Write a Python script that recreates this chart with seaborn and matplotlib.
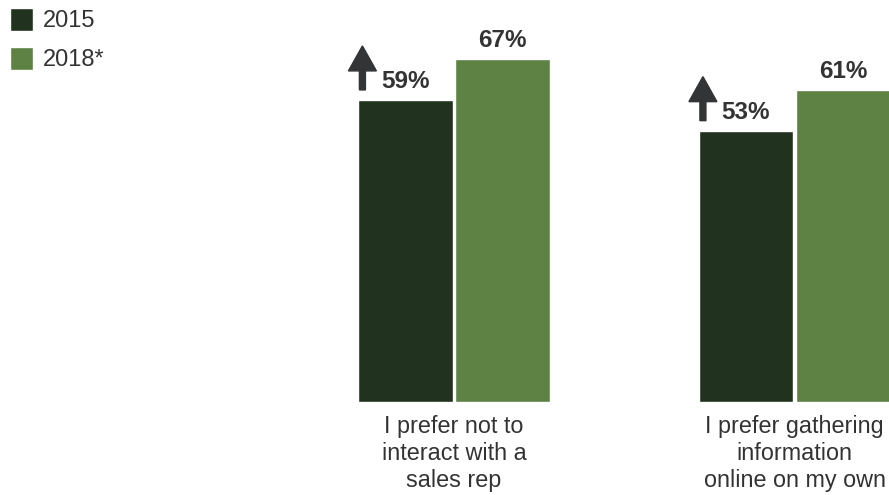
import matplotlib
matplotlib.use("Agg")
import matplotlib.pyplot as plt
import seaborn as sns
import pandas as pd
from matplotlib.patches import FancyArrow
from matplotlib.transforms import IdentityTransform

categories = ["I prefer not to\ninteract with a\nsales rep",
              "I prefer gathering\ninformation\nonline on my own"]
years = ["2015", "2018*"]
values_2015 = [59, 53]
values_2018 = [67, 61]
colors = ["#21331f", "#5d8244"]
text_color = "#333333"

sns.set_theme(style="white")
plt.rcParams["font.family"] = ["Liberation Sans", "DejaVu Sans"]

df = pd.DataFrame({
    "category": categories * 2,
    "year": [years[0]] * 2 + [years[1]] * 2,
    "value": values_2015 + values_2018,
})

W, H = 889, 495
fig = plt.figure(figsize=(W / 100, H / 100), dpi=100)
base_px = 402
ax = fig.add_axes([0, (H - base_px) / H, 1, base_px / H])

sns.barplot(data=df, x="category", y="value", hue="year", palette=colors,
            width=0.57, gap=0.03, saturation=1, ax=ax, legend=True)

px_per_unit = 340.5
ax.set_xlim(-454 / px_per_unit, (W - 454) / px_per_unit)
ax.set_ylim(0, base_px / 5.12)
for s in ax.spines.values():
    s.set_visible(False)
ax.set_yticks([])
ax.set_xlabel("")
ax.set_ylabel("")
ax.tick_params(axis="x", length=0, pad=9, labelsize=16.8, labelcolor=text_color)
for lab in ax.get_xticklabels():
    lab.set_multialignment("center")
    lab.set_linespacing(1.25)

# value labels
for cont, vals in zip(ax.containers, [values_2015, values_2018]):
    for bar, v in zip(cont, vals):
        cx = bar.get_x() + bar.get_width() / 2
        ax.annotate(f"{v}%", xy=(cx, bar.get_height()), xytext=(0, 8.4),
                    textcoords="offset points", ha="center", va="baseline",
                    fontsize=17.5, fontweight="bold", color=text_color)

# up arrows next to 2015 bars
for bar in ax.containers[0]:
    x0, y0 = ax.transData.transform((bar.get_x(), bar.get_height()))
    arr = FancyArrow(x0 + 4, y0 + 10, 0, 44, width=6, head_width=28,
                     head_length=25, length_includes_head=True,
                     color="#333436", transform=IdentityTransform())
    fig.patches.append(arr)
    arr.set_figure(fig)

handles, labels = ax.get_legend_handles_labels()
ax.legend(handles, labels, loc="upper left", bbox_to_anchor=(2.5 / W, 1 - 0.5 / H),
          bbox_transform=fig.transFigure, frameon=False, fontsize=17,
          handlelength=1.0, handleheight=1.12, handletextpad=0.4,
          labelspacing=0.62, borderaxespad=0.0, borderpad=0.3,
          labelcolor=text_color)

fig.savefig("out.png", dpi=100)
